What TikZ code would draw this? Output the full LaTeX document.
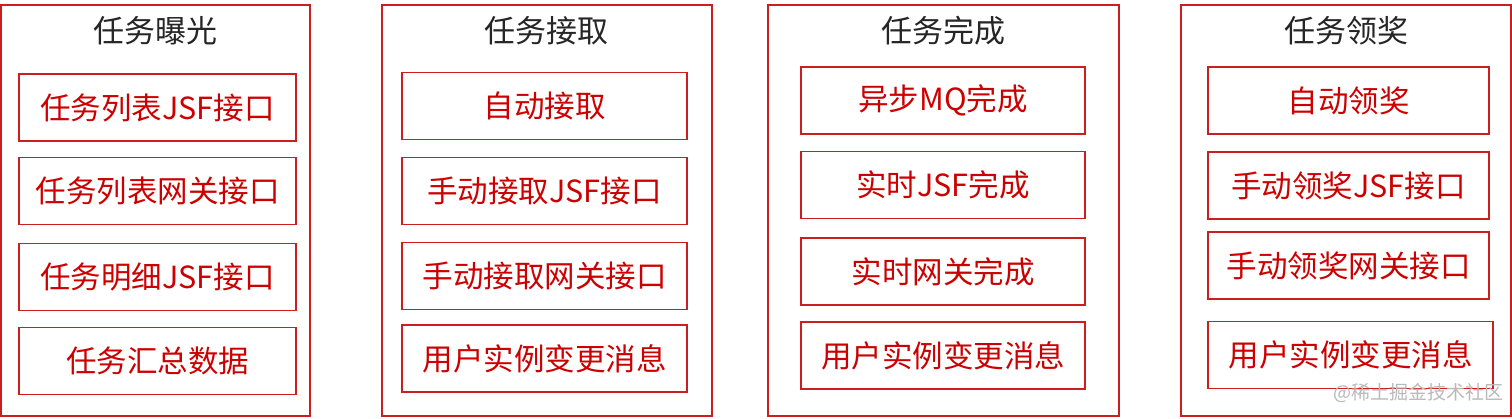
\documentclass[tikz,border=0pt]{standalone}
\usepackage{fontspec}
\setmainfont{Noto Sans CJK SC}
\definecolor{boxred}{RGB}{204,30,30}
\definecolor{txtred}{RGB}{204,0,0}
\definecolor{wm}{RGB}{185,185,185}
\begin{document}
\begin{tikzpicture}[x=1pt,y=-1pt,
  outerbox/.style={draw=boxred,line width=1.8pt,minimum height=411pt,inner sep=0pt},
  innerbox/.style={draw=boxred,line width=1.5pt,minimum height=67pt,inner sep=0pt,text=txtred,font=\fontsize{30.5}{33}\selectfont},
  ttl/.style={text=black!85,font=\fontsize{31}{34}\selectfont,inner sep=0pt},
  wmark/.style={text=wm,font=\fontsize{19}{22}\selectfont,inner sep=0pt}]
\useasboundingbox (0,0) rectangle (1512,418);
\fill[white] (0,0) rectangle (1512,418);
% Group 1
\node[outerbox,minimum width=309pt] (g1) at (155.5,210.5) {};
\node[ttl] (t1) at (155,31) {任务曝光};
\node[innerbox,minimum width=277pt] (a1) at (157.5,107.5) {任务列表JSF接口};
\node[innerbox,minimum width=277pt] (a2) at (157.5,191) {任务列表网关接口};
\node[innerbox,minimum width=277pt] (a3) at (157.5,277) {任务明细JSF接口};
\node[innerbox,minimum width=277pt] (a4) at (157.5,361) {任务汇总数据};
% Group 2
\node[outerbox,minimum width=330pt] (g2) at (547,210.5) {};
\node[ttl] (t2) at (546.5,31) {任务接取};
\node[innerbox,minimum width=285pt] (b1) at (544.5,106) {自动接取};
\node[innerbox,minimum width=285pt] (b2) at (544.5,191) {手动接取JSF接口};
\node[innerbox,minimum width=285pt] (b3) at (544.5,276) {手动接取网关接口};
\node[innerbox,minimum width=285pt] (b4) at (544.5,358.5) {用户实例变更消息};
% Group 3
\node[outerbox,minimum width=351pt] (g3) at (943.5,210.5) {};
\node[ttl] (t3) at (943.5,31) {任务完成};
\node[innerbox,minimum width=284pt] (c1) at (943,100.5) {异步MQ完成};
\node[innerbox,minimum width=284pt] (c2) at (943,185) {实时JSF完成};
\node[innerbox,minimum width=284pt] (c3) at (943,271.5) {实时网关完成};
\node[innerbox,minimum width=284pt] (c4) at (943,355.5) {用户实例变更消息};
% Group 4
\node[outerbox,minimum width=330pt] (g4) at (1346,210.5) {};
\node[ttl] (t4) at (1346,31) {任务领奖};
\node[innerbox,minimum width=281pt] (d1) at (1348.5,100.5) {自动领奖};
\node[innerbox,minimum width=281pt] (d2) at (1348.5,185.5) {手动领奖JSF接口};
\node[innerbox,minimum width=281pt] (d3) at (1348.5,265.5) {手动领奖网关接口};
\node[innerbox,minimum width=285pt] (d4) at (1350.5,355) {用户实例变更消息};
% watermark
\node[wmark] (w) at (1418,393) {@稀土掘金技术社区};
\end{tikzpicture}
\end{document}
